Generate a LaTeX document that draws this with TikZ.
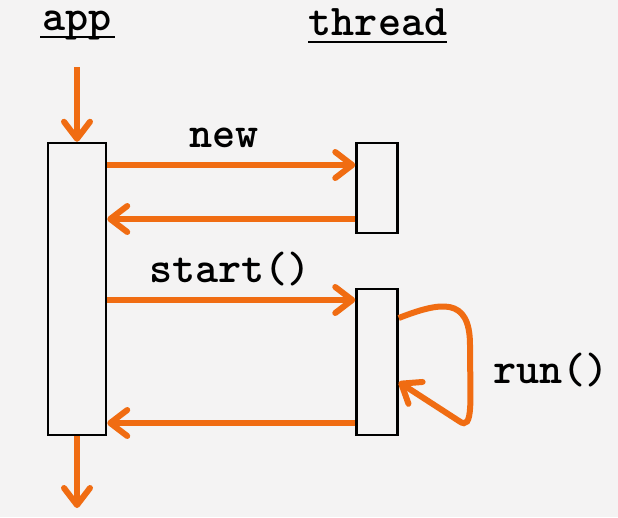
\documentclass[tikz,border=0pt]{standalone}
\usetikzlibrary{arrows.meta}
\definecolor{bgc}{RGB}{244,243,243}
\definecolor{org}{RGB}{240,108,18}
\begin{document}
\begin{tikzpicture}[x=1pt,y=-1pt,
  lbl/.style={font=\fontsize{44}{52}\selectfont\ttfamily\bfseries, anchor=base, inner sep=0pt},
  life/.style={draw=black, line width=2.5pt, fill=bgc, minimum width=#1, inner sep=0pt},
  msg/.style={draw=org, line width=6pt, -{Straight Barb[round,length=17pt,width=26pt]}},
  uline/.style={line width=2pt}]
\fill[bgc] (0,0) rectangle (618,517);
\useasboundingbox (0,0) rectangle (618,517);
% titles
\node[lbl] (tapp) at (77,30) {app};
\node[lbl] (tthr) at (378,35) {thread};
\draw[uline] (40,37) -- (115,37);
\draw[uline] (308,42) -- (447,42);
% lifelines
\node[life=58pt, minimum height=292pt] (app) at (77,289) {};
\node[life=41pt, minimum height=90pt] (t1) at (377,188) {};
\node[life=41pt, minimum height=146pt] (t2) at (377,362) {};
% helper coordinates
\coordinate (cin) at (77,67);
\coordinate (cout) at (77,508);
\coordinate (y1) at (0,165);
\coordinate (y2) at (0,219);
\coordinate (y3) at (0,300);
\coordinate (y4) at (0,423);
\coordinate (ya) at (0,318);
\coordinate (yb) at (0,382);
% messages
\draw[msg] (cin) -- (app.north);
\draw[msg] (app.south) -- (cout);
\draw[msg] (app.east |- y1) -- (t1.west |- y1);
\draw[msg] (t1.west |- y2) -- (app.east |- y2);
\draw[msg] (app.east |- y3) -- (t2.west |- y3);
\draw[msg] (t2.west |- y4) -- (app.east |- y4);
\draw[msg] (t2.east |- ya) .. controls (440,302) and (470,296) .. (470,345)
   .. controls (470,400) and (474,432) .. (459,421) -- (t2.east |- yb);
% labels
\node[lbl] (lnew) at (224,147) {new};
\node[lbl] (lstart) at (230,282) {start()};
\node[lbl] (lrun) at (551,383) {run()};
\end{tikzpicture}
\end{document}
